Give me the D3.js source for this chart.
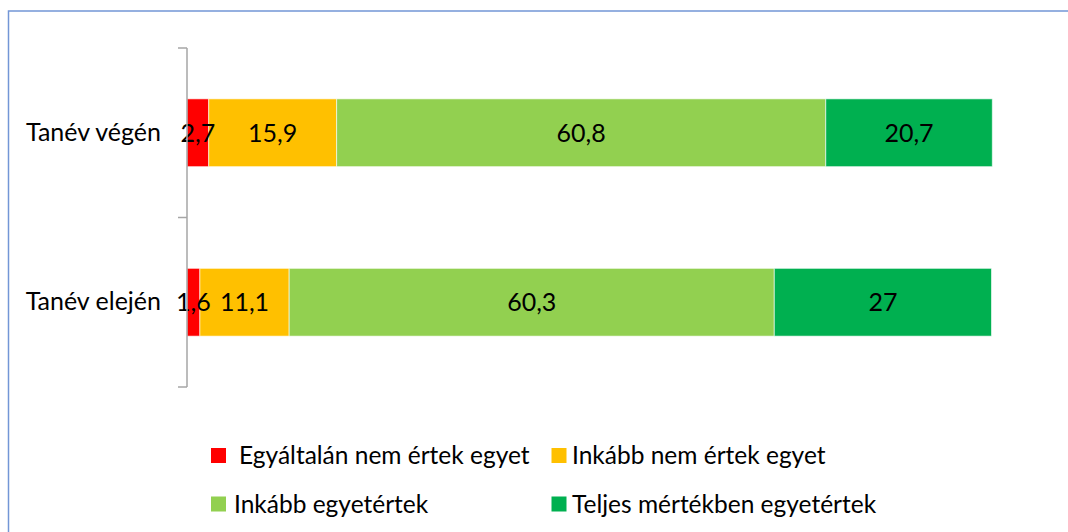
<!DOCTYPE html>
<html>
<head>
<meta charset="utf-8">
<script src="https://cdn.jsdelivr.net/npm/d3@7"></script>
<style>
  body { margin: 0; background: #fff; }
  svg { display: block; font-family: Lato, "Open Sans", sans-serif; }
</style>
</head>
<body>
<svg id="chart"></svg>
<script>
// data
var categories = ["Tanév végén", "Tanév elején"];
var seriesNames = ["Egyáltalán nem értek egyet", "Inkább nem értek egyet", "Inkább egyetértek", "Teljes mértékben egyetértek"];
var seriesColors = ["#ff0000", "#ffc000", "#92d050", "#00b050"];
var valuesVegen = [2.7, 15.9, 60.8, 20.7];
var valuesEleje = [1.6, 11.1, 60.3, 27];
var labelsVegen = ["2,7", "15,9", "60,8", "20,7"];
var labelsEleje = ["1,6", "11,1", "60,3", "27"];

var width = 1068, height = 532;
var svg = d3.select("#chart")
    .attr("width", width)
    .attr("height", height);

// outer frame (runs off the right/bottom edges)
svg.append("rect")
    .attr("x", 8.5)
    .attr("y", 11)
    .attr("width", 1100)
    .attr("height", 600)
    .attr("fill", "none")
    .attr("stroke", "#7396d6")
    .attr("stroke-width", 1.5);

var x = d3.scaleLinear()
    .domain([0, 100])
    .range([187, 991.5]);

var y = d3.scaleBand()
    .domain(categories)
    .range([48, 387])
    .paddingInner(0.6)
    .paddingOuter(0.3);

var rows = [
  { cat: categories[0], vals: valuesVegen, labels: labelsVegen },
  { cat: categories[1], vals: valuesEleje, labels: labelsEleje }
];

rows.forEach(function(r) {
  var acc = 0;
  var segs = r.vals.map(function(v, i) {
    var s = { x0: acc, x1: acc + v, color: seriesColors[i], label: r.labels[i] };
    acc += v;
    return s;
  });

  var g = svg.append("g");
  g.selectAll("rect")
    .data(segs)
    .enter().append("rect")
      .attr("x", function(d) { return x(d.x0); })
      .attr("y", y(r.cat))
      .attr("width", function(d) { return x(d.x1) - x(d.x0); })
      .attr("height", y.bandwidth())
      .attr("fill", function(d) { return d.color; })
      .attr("stroke", "rgba(255,255,255,0.6)")
      .attr("stroke-width", 1);

  g.selectAll("text")
    .data(segs)
    .enter().append("text")
      .attr("x", function(d) { return (x(d.x0) + x(d.x1)) / 2; })
      .attr("y", y(r.cat) + y.bandwidth() / 2)
      .attr("dy", "0.35em")
      .attr("text-anchor", "middle")
      .attr("font-size", 25)
      .attr("fill", "#000")
      .text(function(d) { return d.label; });
});

// category axis
var axis = svg.append("g")
    .attr("transform", "translate(187,0)")
    .call(d3.axisLeft(y).tickSize(0).tickPadding(26));
axis.select(".domain").remove();
axis.selectAll("text")
    .attr("font-size", 25)
    .attr("font-family", "Lato, 'Open Sans', sans-serif")
    .attr("fill", "#000");

// axis line with boundary ticks
var tickYs = [48, 48 + y.step(), 387];
svg.append("line")
    .attr("x1", 187).attr("x2", 187)
    .attr("y1", 48).attr("y2", 387)
    .attr("stroke", "#a6a6a6")
    .attr("stroke-width", 1.5);
svg.selectAll(".btick")
    .data(tickYs)
    .enter().append("line")
      .attr("class", "btick")
      .attr("x1", 178).attr("x2", 187)
      .attr("y1", function(d) { return d; })
      .attr("y2", function(d) { return d; })
      .attr("stroke", "#a6a6a6")
      .attr("stroke-width", 1.5);

// legend
var legendPos = [
  { x: 211, y: 455.5, tx: 239 },
  { x: 551.5, y: 455.5, tx: 572 },
  { x: 211, y: 504, tx: 234 },
  { x: 551.5, y: 504, tx: 572 }
];
var legend = svg.append("g");
seriesNames.forEach(function(name, i) {
  var p = legendPos[i];
  legend.append("rect")
      .attr("x", p.x)
      .attr("y", p.y - 7.5)
      .attr("width", 15)
      .attr("height", 15)
      .attr("fill", seriesColors[i]);
  legend.append("text")
      .attr("x", p.tx)
      .attr("y", p.y)
      .attr("dy", "0.35em")
      .attr("font-size", 24.5)
      .attr("fill", "#000")
      .text(name);
});
</script>
</body>
</html>
